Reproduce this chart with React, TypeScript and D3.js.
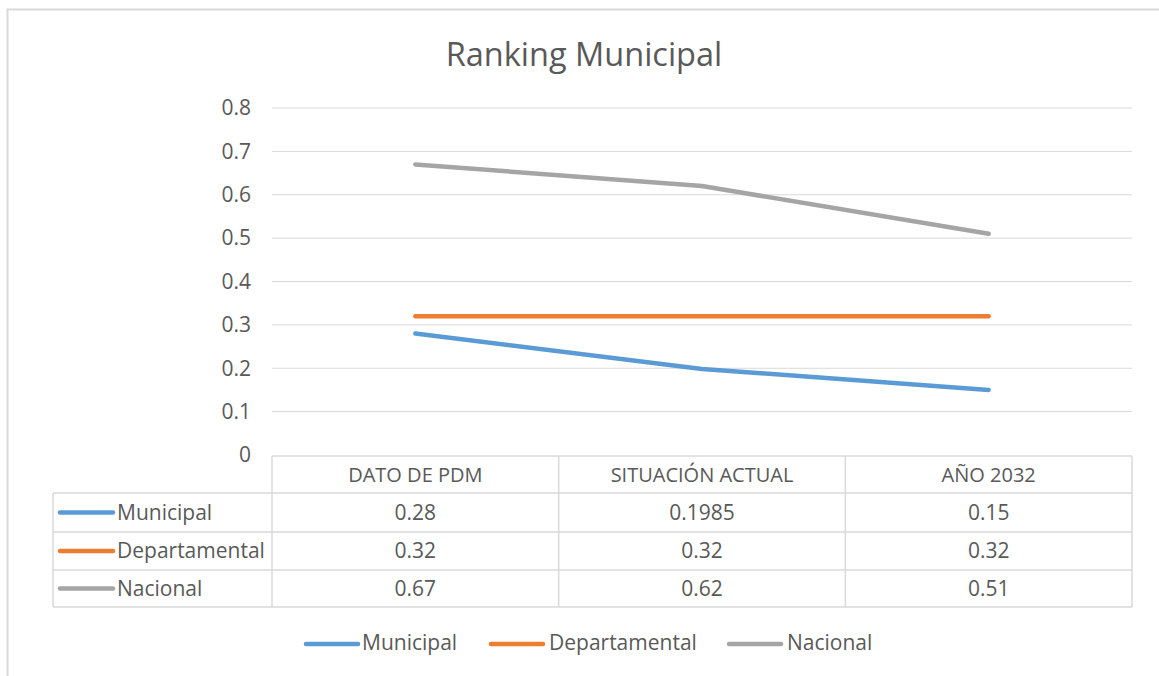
import React from "react";
import * as d3 from "d3";

const categories = ["DATO DE PDM", "SITUACIÓN ACTUAL", "AÑO 2032"];
const seriesNames = ["Municipal", "Departamental", "Nacional"];
const municipal = [0.28, 0.1985, 0.15];
const departamental = [0.32, 0.32, 0.32];
const nacional = [0.67, 0.62, 0.51];
const tableLabels = [["0.28", "0.1985", "0.15"], ["0.32", "0.32", "0.32"], ["0.67", "0.62", "0.51"]];
const yTicks = [0, 0.1, 0.2, 0.3, 0.4, 0.5, 0.6, 0.7, 0.8];
const colors = ["#5B9BD5", "#ED7D31", "#A5A5A5"];

const W = 1159, H = 676;
const FONT = "'Open Sans', Lato, sans-serif";
const TXT = "#595959";
const GRID = "#D9D9D9";

export default function App() {
  const plotL = 272, plotR = 1132, plotT = 108, plotB = 455;
  const x = d3.scaleBand().domain(categories).range([plotL, plotR]);
  const y = d3.scaleLinear().domain([0, 0.8]).range([plotB, plotT]);
  const series = [municipal, departamental, nacional];
  const line = d3.line<number>().x((_, i) => (x(categories[i]) as number) + x.bandwidth() / 2).y((d) => y(d));
  const rowTops = [456, 493, 532, 570, 607];
  const tableL = 53;
  const legendItems = [
    { lx: 306, tx: 362 },
    { lx: 491, tx: 549 },
    { lx: 729, tx: 787 },
  ];
  return (
    <svg width={W} height={H} style={{ position: "absolute", left: 0, top: 0, background: "#fff" }}>
      <rect x={0} y={0} width={W} height={H} fill="#fff" />
      <rect x={7.5} y={9.5} width={W + 20} height={H + 20} fill="#fff" stroke="#D9D9D9" strokeWidth={2} />
      <text x={584} y={66} textAnchor="middle" fontFamily={FONT} fontSize={32.5} fill={TXT}>Ranking Municipal</text>
      {yTicks.map((t) => (
        <g key={t}>
          {t > 0 && <line x1={plotL} x2={plotR} y1={y(t)} y2={y(t)} stroke={GRID} strokeWidth={1} />}
          <text x={251} y={y(t)} dy="0.35em" textAnchor="end" fontFamily={FONT} fontSize={21} fill={TXT}>{t === 0 ? "0" : t.toFixed(1)}</text>
        </g>
      ))}
      {/* data table */}
      <line x1={plotL} x2={plotR} y1={rowTops[0]} y2={rowTops[0]} stroke={GRID} strokeWidth={1.5} />
      {rowTops.slice(1).map((ry) => (
        <line key={ry} x1={tableL} x2={plotR} y1={ry} y2={ry} stroke={GRID} strokeWidth={1.5} />
      ))}
      <line x1={tableL} x2={tableL} y1={rowTops[1]} y2={rowTops[4]} stroke={GRID} strokeWidth={1.5} />
      {[...categories.map((c) => x(c) as number), plotR].map((cx) => (
        <line key={cx} x1={cx} x2={cx} y1={rowTops[0]} y2={rowTops[4]} stroke={GRID} strokeWidth={1.5} />
      ))}
      {categories.map((c) => (
        <text key={c} x={(x(c) as number) + x.bandwidth() / 2} y={(rowTops[0] + rowTops[1]) / 2} dy="0.35em" textAnchor="middle" fontFamily={FONT} fontSize={20} fill={TXT}>{c}</text>
      ))}
      {seriesNames.map((s, i) => {
        const cy = (rowTops[i + 1] + rowTops[i + 2]) / 2;
        return (
          <g key={s}>
            <line x1={60} x2={113} y1={cy} y2={cy} stroke={colors[i]} strokeWidth={4.5} strokeLinecap="round" />
            <text x={117} y={cy} dy="0.35em" fontFamily={FONT} fontSize={21} fill={TXT}>{s}</text>
            {tableLabels[i].map((v, j) => (
              <text key={j} x={(x(categories[j]) as number) + x.bandwidth() / 2} y={cy} dy="0.35em" textAnchor="middle" fontFamily={FONT} fontSize={21} fill={TXT}>{v}</text>
            ))}
          </g>
        );
      })}
      {/* lines */}
      {series.map((s, i) => (
        <path key={i} d={line(s) as string} fill="none" stroke={colors[i]} strokeWidth={4.5} strokeLinecap="round" strokeLinejoin="round" />
      ))}
      {/* legend */}
      {seriesNames.map((s, i) => (
        <g key={s}>
          <line x1={legendItems[i].lx} x2={legendItems[i].lx + 52} y1={644} y2={644} stroke={colors[i]} strokeWidth={4.5} strokeLinecap="round" />
          <text x={legendItems[i].tx} y={643} dy="0.35em" fontFamily={FONT} fontSize={21} fill={TXT}>{s}</text>
        </g>
      ))}
    </svg>
  );
}
